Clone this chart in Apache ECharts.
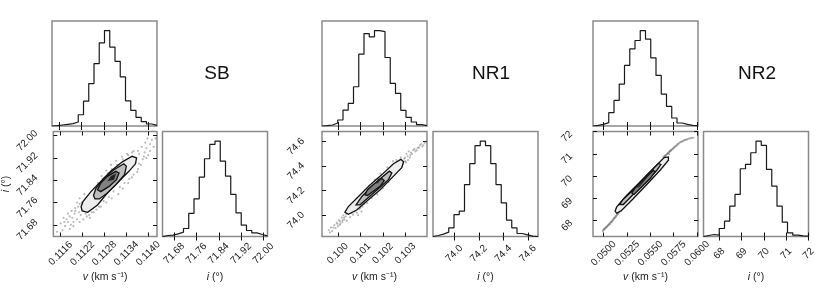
<!DOCTYPE html>
<html><head><meta charset="utf-8">
<script src="https://cdn.jsdelivr.net/npm/echarts@6/dist/echarts.min.js"></script>
<style>html,body{margin:0;padding:0;background:#fff}#c{width:830px;height:294px}</style>
</head><body><div id="c"></div>
<script>
// ---------------- DATA ----------------
const groupNames = ['SB', 'NR1', 'NR2'];

// SB
const vRangeSB = [0.11140, 0.11424];
const iRangeSB = [71.638, 72.015];
const vTicksSB = [0.1116, 0.1122, 0.1128, 0.1134, 0.1140];
const iTicksSB = [71.68, 71.76, 71.84, 71.92, 72.00];
const vHistSB = [1, 3, 5, 7, 12, 34, 75, 128, 188, 251, 288, 238, 195, 148, 76, 47, 26, 13, 6, 2];
const iHistSB = [3, 4, 8, 13, 24, 69, 113, 178, 233, 276, 286, 226, 181, 126, 71, 34, 18, 11, 6, 2];
const outerSB = [[0.11216,71.745],[0.11221,71.763],[0.11243,71.799],[0.11270,71.836],[0.11297,71.872],[0.11329,71.906],[0.11356,71.926],[0.11368,71.920],[0.11365,71.899],[0.11347,71.872],[0.11315,71.830],[0.11288,71.794],[0.11261,71.751],[0.11234,71.725],[0.11219,71.730]];
const midSB = [[0.11250,71.785],[0.11257,71.812],[0.11279,71.848],[0.11306,71.878],[0.11333,71.899],[0.11340,71.890],[0.11335,71.860],[0.11311,71.824],[0.11288,71.794],[0.11266,71.773],[0.11254,71.773]];
const innerSB = [[0.11261,71.806],[0.11270,71.830],[0.11288,71.854],[0.11311,71.872],[0.11320,71.866],[0.11313,71.842],[0.11293,71.818],[0.11270,71.799]];
const coreSB = [[0.11288,71.836],[0.11298,71.855],[0.11312,71.864],[0.11306,71.842]];
const scatterSB = [[0.11165,71.66],[0.11172,71.675],[0.11180,71.69],[0.11176,71.70],[0.11188,71.68],[0.11192,71.705],[0.11198,71.72],[0.11185,71.71],[0.11205,71.70],[0.11210,71.725],[0.11200,71.74],[0.11215,71.715],[0.11222,71.735],[0.11195,71.69],[0.11228,71.72],[0.11232,71.71],[0.11212,71.755],[0.11240,71.74],[0.11205,71.76],[0.11245,71.725],[0.11258,71.735],[0.11230,71.775],[0.11270,71.745],[0.11225,71.79],[0.11285,71.76],[0.11245,71.80],[0.11300,71.775],[0.11260,71.82],[0.11318,71.79],[0.11275,71.845],[0.11330,71.81],[0.11290,71.865],[0.11345,71.83],[0.11300,71.88],[0.11355,71.85],[0.11315,71.895],[0.11370,71.87],[0.11330,71.915],[0.11380,71.895],[0.11345,71.93],[0.11385,71.915],[0.11375,71.935],[0.11390,71.94],[0.11395,71.955],[0.11400,71.93],[0.11405,71.97],[0.11410,71.985],[0.11398,71.99],[0.11415,71.96],[0.11360,71.945],[0.11388,71.925],[0.11250,71.77],[0.11265,71.80],[0.11212,71.775],[0.11282,71.795],[0.11310,71.83],[0.11335,71.87],[0.11240,71.705],[0.11180,71.72],[0.11160,71.685],[0.11150,71.655],
  [0.11200,71.73],[0.11208,71.745],[0.11218,71.76],[0.11236,71.785],[0.11252,71.81],[0.11262,71.83],[0.11272,71.855],[0.11285,71.875],[0.11298,71.895],[0.11312,71.91],[0.11328,71.925],[0.11342,71.935],[0.11356,71.94],[0.11372,71.945],[0.11382,71.96],[0.11392,71.975],[0.11365,71.905],[0.11375,71.90],[0.11372,71.88],[0.11360,71.86],[0.11348,71.845],[0.11335,71.83],[0.11322,71.815],[0.11305,71.80],[0.11292,71.78],[0.11278,71.765],[0.11265,71.745],[0.11250,71.725],[0.11238,71.715],[0.11222,71.70],[0.11212,71.69],[0.11195,71.675],[0.11185,71.665],[0.11170,71.69],[0.11190,71.73],[0.11405,71.945],[0.11420,71.99],[0.11395,71.92],[0.11168,71.705],[0.11242,71.765]];

// NR1
const vRangeNR1 = [0.09930, 0.10396];
const iRangeNR1 = [73.827, 74.682];
const vTicksNR1 = [0.100, 0.101, 0.102, 0.103];
const iTicksNR1 = [74.0, 74.2, 74.4, 74.6];
const vHistNR1 = [1, 3, 9, 18, 48, 68, 118, 216, 278, 268, 287, 284, 206, 128, 98, 47, 26, 12, 4, 1];
const iHistNR1 = [3, 7, 13, 26, 66, 76, 156, 219, 273, 287, 273, 219, 156, 101, 49, 26, 9, 5, 1, 0];
const outerNR1 = [[0.10032,74.025],[0.10047,74.071],[0.10092,74.153],[0.10144,74.249],[0.10196,74.331],[0.10247,74.420],[0.10280,74.455],[0.10292,74.436],[0.10284,74.387],[0.10240,74.304],[0.10188,74.208],[0.10136,74.126],[0.10084,74.043],[0.10047,74.008]];
const midNR1 = [[0.10081,74.085],[0.10107,74.153],[0.10151,74.235],[0.10196,74.309],[0.10229,74.359],[0.10240,74.345],[0.10225,74.290],[0.10180,74.216],[0.10136,74.145],[0.10099,74.085]];
const innerNR1 = [[0.10121,74.167],[0.10132,74.208],[0.10166,74.263],[0.10196,74.299],[0.10206,74.282],[0.10188,74.235],[0.10156,74.194],[0.10132,74.161]];
const coreNR1 = [[0.10165,74.258],[0.10180,74.300],[0.10192,74.300],[0.10178,74.260]];
const scatterNR1 = [[0.09960,73.88],[0.09970,73.90],[0.09975,73.87],[0.09985,73.92],[0.09990,73.895],[0.09995,73.94],[0.10000,73.91],[0.10005,73.96],[0.10012,73.93],[0.10018,73.98],[0.10020,73.945],[0.10025,74.00],[0.10030,73.965],[0.10035,73.99],[0.10040,73.955],[0.10045,74.02],[0.10055,73.985],[0.10060,74.04],[0.10068,74.005],[0.10075,74.03],[0.10050,74.06],[0.10085,74.02],[0.10095,74.05],[0.10065,74.09],[0.10110,74.07],[0.10080,74.12],[0.10130,74.10],[0.10100,74.16],[0.10150,74.14],[0.10120,74.20],[0.10175,74.17],[0.10140,74.24],[0.10200,74.22],[0.10165,74.29],[0.10225,74.27],[0.10190,74.34],[0.10250,74.33],[0.10220,74.39],[0.10270,74.38],[0.10245,74.44],[0.10290,74.42],[0.10295,74.46],[0.10300,74.44],[0.10310,74.48],[0.10305,74.50],[0.10320,74.47],[0.10325,74.51],[0.10335,74.53],[0.10345,74.52],[0.10355,74.55],[0.10365,74.57],[0.10375,74.56],[0.10385,74.59],[0.10315,74.52],[0.10280,74.47],[0.10260,74.45],[0.10285,74.40],[0.10090,74.00],[0.10105,74.03],
  [0.10010,73.95],[0.10028,73.98],[0.10038,74.01],[0.10052,74.035],[0.10062,74.02],[0.10072,74.06],[0.10088,74.08],[0.10098,74.10],[0.10112,74.12],[0.10125,74.14],[0.10138,74.17],[0.10155,74.19],[0.10168,74.21],[0.10182,74.25],[0.10198,74.27],[0.10212,74.30],[0.10228,74.32],[0.10242,74.36],[0.10258,74.38],[0.10268,74.41],[0.10298,74.47],[0.10302,74.43],[0.10312,74.45],[0.10322,74.49],[0.10330,74.50],[0.10340,74.54],[0.10350,74.53],[0.10360,74.55],[0.10370,74.58],[0.10380,74.57],[0.10390,74.60],[0.10080,74.04],[0.10100,74.06],[0.10118,74.09],[0.10278,74.43],[0.10022,73.96],[0.09998,73.93],[0.09980,73.90],[0.09965,73.86],[0.10008,73.92]];

// NR2
const vRangeNR2 = [0.04885, 0.06010];
const iRangeNR2 = [67.29, 72.00];
const vTicksNR2 = [0.0500, 0.0525, 0.0550, 0.0575, 0.0600];
const iTicksNR2 = [68, 69, 70, 71, 72];
const vHistNR2 = [2, 5, 10, 40, 77, 126, 182, 232, 257, 287, 261, 205, 152, 96, 59, 24, 9, 5, 2, 1];
const iHistNR2 = [3, 6, 4, 24, 46, 91, 126, 203, 216, 251, 286, 273, 201, 151, 91, 43, 11, 4, 2, 1];
const outerNR2 = [[0.05121,68.425],[0.05139,68.617],[0.05247,69.142],[0.05389,69.738],[0.05532,70.339],[0.05647,70.833],[0.05693,70.860],[0.05693,70.712],[0.05604,70.263],[0.05461,69.622],[0.05318,68.994],[0.05193,68.469],[0.05139,68.335]];
const midNR2 = [[0.05167,68.725],[0.05210,68.963],[0.05336,69.469],[0.05461,70.039],[0.05586,70.564],[0.05612,70.519],[0.05569,70.263],[0.05443,69.712],[0.05318,69.187],[0.05210,68.725]];
const innerNR2 = [[0.05300,69.245],[0.05336,69.469],[0.05443,69.891],[0.05532,70.263],[0.05550,70.187],[0.05497,69.891],[0.05389,69.443],[0.05325,69.173]];
const coreNR2 = [[0.05355,69.45],[0.05470,70.00],[0.05495,70.10],[0.05385,69.52]];
const scatterNR2 = [[0.04990,67.53],[0.05000,67.60],[0.05010,67.62],[0.05020,67.68],[0.05030,67.70],[0.05040,67.76],[0.05050,67.80],[0.05055,67.84],[0.05065,67.86],[0.05075,67.92],[0.05080,67.95],[0.05090,67.98],[0.05100,68.04],[0.05105,68.07],[0.05110,68.10],[0.05120,68.14],[0.05125,68.19],[0.05135,68.22],[0.05145,68.28],[0.05150,68.30],[0.05160,68.36],[0.05655,70.90],[0.05665,70.94],[0.05680,71.00],[0.05690,71.03],[0.05700,71.08],[0.05712,71.12],[0.05720,71.15],[0.05730,71.20],[0.05745,71.24],[0.05755,71.30],[0.05770,71.34],[0.05785,71.40],[0.05800,71.45],[0.05820,71.52],[0.05840,71.55],[0.05860,71.60],[0.05880,71.63],[0.05900,71.66],[0.05930,71.70],[0.05960,71.72],
  [0.04995,67.57],[0.05005,67.63],[0.05015,67.66],[0.05025,67.72],[0.05035,67.73],[0.05045,67.79],[0.05060,67.83],[0.05070,67.89],[0.05085,67.94],[0.05095,68.01],[0.05115,68.12],[0.05130,68.17],[0.05140,68.26],[0.05155,68.33],[0.05165,68.40],[0.05175,68.46],[0.05640,70.86],[0.05650,70.88],[0.05660,70.92],[0.05675,70.97],[0.05685,71.01],[0.05695,71.05],[0.05705,71.10],[0.05715,71.14],[0.05725,71.17],[0.05740,71.22],[0.05750,71.27],[0.05765,71.32],[0.05780,71.37],[0.05795,71.43],[0.05810,71.48],[0.05830,71.54],[0.05850,71.57],[0.05870,71.62],[0.05890,71.64],[0.05915,71.68],[0.05945,71.71],[0.05700,70.98],[0.05660,70.85],[0.05185,68.42]];

// ---------------- BUILD ----------------
const FONT = '"Liberation Sans", Arial, Helvetica, sans-serif';
const groups = [
  {vRange:vRangeSB, iRange:iRangeSB, vTicks:vTicksSB, iTicks:iTicksSB, vDec:4, iDec:2, vHist:vHistSB, iHist:iHistSB, pts:scatterSB, polys:[outerSB, midSB, innerSB, coreSB]},
  {vRange:vRangeNR1, iRange:iRangeNR1, vTicks:vTicksNR1, iTicks:iTicksNR1, vDec:3, iDec:1, vHist:vHistNR1, iHist:iHistNR1, pts:scatterNR1, polys:[outerNR1, midNR1, innerNR1, coreNR1]},
  {vRange:vRangeNR2, iRange:iRangeNR2, vTicks:vTicksNR2, iTicks:iTicksNR2, vDec:4, iDec:0, vHist:vHistNR2, iHist:iHistNR2, pts:scatterNR2, polys:[outerNR2, midNR2, innerNR2, coreNR2]}
];
const layout = [
  {left2D:52, leftR:162.5, titleX:217},
  {left2D:322, leftR:433, titleX:491},
  {left2D:593, leftR:703.5, titleX:757}
];
const PW = 105, PH = 105, TOP1 = 21, TOP2 = 131.5;
const polyFill = ['#ededed', '#bdbdbd', '#808080', '#222'];
const polyStroke = ['#111', '#111', '#111', null];

const grids = [], xAxes = [], yAxes = [], series = [];
const rich = {it:{fontStyle:'italic', fontSize:10.5, fontFamily:FONT, color:'#222'}, n:{fontSize:10.5, fontFamily:FONT, color:'#222'}};

function mkAxis(gridIdx, pos, range, ticks, dec, showLabels, extra) {
  const isY = (pos === 'left' || pos === 'right');
  const ax = {
    type:'value', gridIndex:gridIdx, position:pos, min:range[0], max:range[1],
    axisLine:{show:false}, splitLine:{show:false},
    axisTick: ticks ? {show:true, inside:true, length:4, lineStyle:{color:'#111', width:1}, customValues:ticks} : {show:false},
    axisLabel: showLabels ? {show:true, customValues:ticks, formatter:(v)=>Number(v).toFixed(dec), rotate:45,
      fontSize:10, fontFamily:FONT, color:'#222', align:'center', verticalAlign:'middle',
      margin: isY ? 21 : 17, padding: isY ? [14, 14, 0, 0] : 0} : {show:false}
  };
  return Object.assign(ax, extra || {});
}

function histData(counts, range) {
  const n = counts.length, w = (range[1] - range[0]) / n;
  const d = [[range[0], 0]];
  for (let k = 0; k < n; k++) d.push([range[0] + k * w, counts[k]]);
  d.push([range[1], counts[n - 1]]);
  d.push([range[1], 0]);
  return d;
}

groups.forEach((g, gi) => {
  const L = layout[gi];
  const gTop = gi * 3, g2D = gi * 3 + 1, gR = gi * 3 + 2;
  const gridBase = {show:true, borderColor:'#8a8a8a', borderWidth:1.5, backgroundColor:'transparent', width:PW, height:PH};
  grids.push(Object.assign({left:L.left2D, top:TOP1}, gridBase));
  grids.push(Object.assign({left:L.left2D, top:TOP2}, gridBase));
  grids.push(Object.assign({left:L.leftR, top:TOP2}, gridBase));

  const vMax = Math.max(...g.vHist) * 1.1, iMax = Math.max(...g.iHist) * 1.1;
  xAxes.push(mkAxis(gTop, 'bottom', g.vRange, g.vTicks, g.vDec, false));
  xAxes.push(mkAxis(gTop, 'top', g.vRange, g.vTicks, g.vDec, false));
  yAxes.push(mkAxis(gTop, 'left', [0, vMax], null, 0, false));
  yAxes.push(mkAxis(gTop, 'right', [0, vMax], null, 0, false));
  xAxes.push(mkAxis(g2D, 'bottom', g.vRange, g.vTicks, g.vDec, true, {
    name:'{it|v}{n| (km s⁻¹)}', nameLocation:'middle', nameGap:35, nameTextStyle:{rich}}));
  xAxes.push(mkAxis(g2D, 'top', g.vRange, g.vTicks, g.vDec, false));
  yAxes.push(mkAxis(g2D, 'left', g.iRange, g.iTicks, g.iDec, true, gi === 0 ? {
    name:'{it|i}{n| (°)}', nameLocation:'middle', nameGap:41, nameRotate:90, nameTextStyle:{rich}} : {}));
  yAxes.push(mkAxis(g2D, 'right', g.iRange, g.iTicks, g.iDec, false));
  xAxes.push(mkAxis(gR, 'bottom', g.iRange, g.iTicks, g.iDec, true, {
    name:'{it|i}{n| (°)}', nameLocation:'middle', nameGap:35, nameTextStyle:{rich}}));
  xAxes.push(mkAxis(gR, 'top', g.iRange, g.iTicks, g.iDec, false));
  yAxes.push(mkAxis(gR, 'left', [0, iMax], null, 0, false));
  yAxes.push(mkAxis(gR, 'right', [0, iMax], null, 0, false));

  series.push({type:'line', xAxisIndex:gTop*2, yAxisIndex:gTop*2, step:'end', showSymbol:false, symbol:'none',
    data:histData(g.vHist, g.vRange), lineStyle:{color:'#1a1a1a', width:1.2}, silent:true, z:3});
  series.push({type:'line', xAxisIndex:gR*2, yAxisIndex:gR*2, step:'end', showSymbol:false, symbol:'none',
    data:histData(g.iHist, g.iRange), lineStyle:{color:'#1a1a1a', width:1.2}, silent:true, z:3});
  series.push({type:'scatter', xAxisIndex:g2D*2, yAxisIndex:g2D*2, data:g.pts, symbolSize:2.2,
    itemStyle:{color:'rgba(110,110,110,0.6)'}, silent:true, z:1});
  g.polys.forEach((poly, pi) => {
    series.push({type:'custom', xAxisIndex:g2D*2, yAxisIndex:g2D*2, silent:true, z:2 + pi * 0.1,
      data:[poly[0]],
      renderItem:(params, api) => ({type:'polygon', shape:{points: poly.map(p => api.coord(p))},
        style:{fill:polyFill[pi], stroke:polyStroke[pi] || 'none', lineWidth: polyStroke[pi] ? 1.3 : 0}})});
  });
});

const chart = echarts.init(document.getElementById('c'), null, {renderer:'canvas'});
chart.setOption({
  animation:false,
  backgroundColor:'#fff',
  grid:grids, xAxis:xAxes, yAxis:yAxes, series,
  graphic: groupNames.map((n, gi) => ({type:'text', x:layout[gi].titleX, y:74,
    style:{text:n, font:'19px ' + FONT, fill:'#111', textAlign:'center', textVerticalAlign:'middle'}}))
});
</script></body></html>
